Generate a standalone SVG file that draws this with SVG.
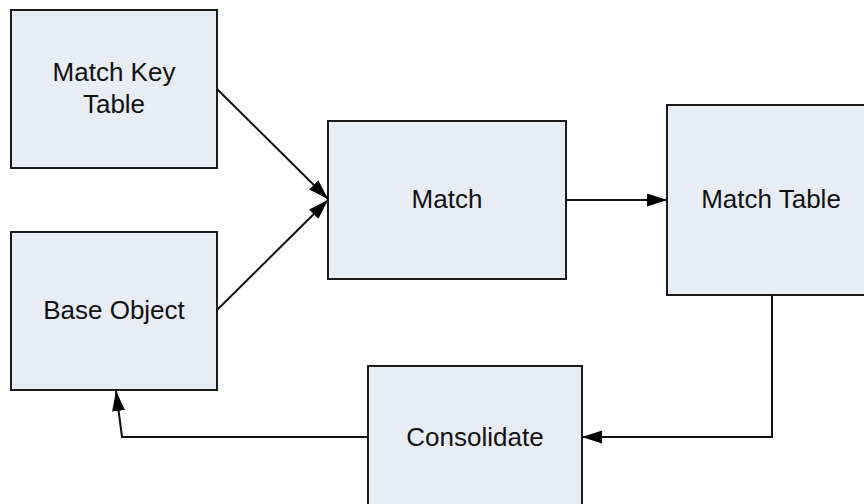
<svg xmlns="http://www.w3.org/2000/svg" width="864" height="504" viewBox="0 0 864 504">
<style>
.box{fill:#e8ecf4;stroke:#1c1c1c;stroke-width:2}
.lbl{font-family:"Liberation Sans",Arial,sans-serif;font-size:26px;fill:#111;text-anchor:middle}
.edge{fill:none;stroke:#111;stroke-width:2}
</style>
<defs>
<marker id="ah" viewBox="0 0 20 13" refX="20" refY="6.5" markerWidth="20" markerHeight="13" markerUnits="userSpaceOnUse" orient="auto">
<path d="M0,0 L20,6.5 L0,13 Z" fill="#000"/>
</marker>
</defs>
<rect width="864" height="504" fill="#fff"/>
<g id="match-key-table">
<rect class="box" x="11" y="10" width="206" height="158"/>
<text class="lbl" x="114" y="81">Match Key</text>
<text class="lbl" x="114" y="113">Table</text>
</g>
<g id="base-object">
<rect class="box" x="11" y="232" width="206" height="158"/>
<text class="lbl" x="114" y="319">Base Object</text>
</g>
<g id="match">
<rect class="box" x="328" y="121" width="238" height="158"/>
<text class="lbl" x="447" y="208">Match</text>
</g>
<g id="match-table">
<rect class="box" x="667" y="105" width="210" height="190"/>
<text class="lbl" x="771" y="208">Match Table</text>
</g>
<g id="consolidate">
<rect class="box" x="368" y="366" width="214" height="160"/>
<text class="lbl" x="475" y="446">Consolidate</text>
</g>
<g id="connectors">
<path class="edge" d="M217,89 L328,199" marker-end="url(#ah)"/>
<path class="edge" d="M217,310 L328,200" marker-end="url(#ah)"/>
<path class="edge" d="M566,200 L667,200" marker-end="url(#ah)"/>
<path class="edge" d="M772,295 L772,437 L582,437" marker-end="url(#ah)"/>
<path class="edge" d="M368,437 L122,437 L116,391" marker-end="url(#ah)"/>
</g>
</svg>
